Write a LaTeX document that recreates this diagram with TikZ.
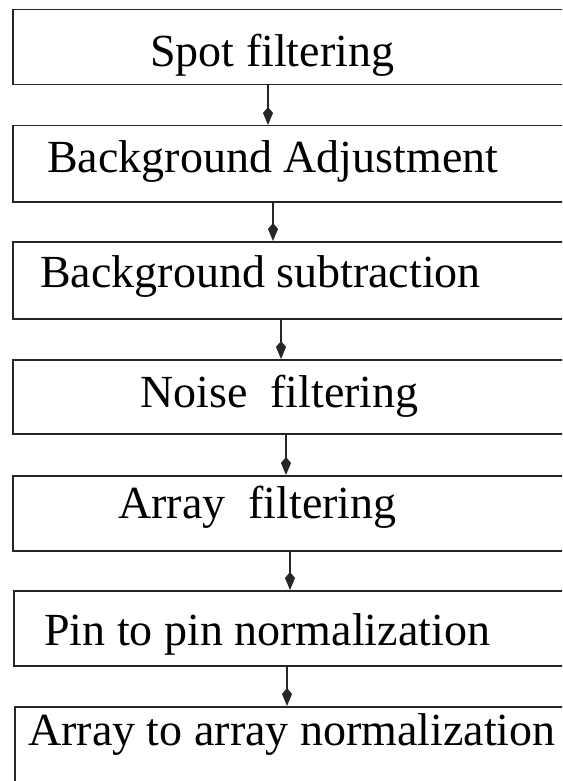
\documentclass[tikz,border=0pt]{standalone}
\usepackage{fontspec}
\setmainfont{Liberation Serif}
\usetikzlibrary{arrows.meta}
\begin{document}
\begin{tikzpicture}[x=1pt,y=-1pt,
  box/.style={draw=black!85,line width=1.5pt,rectangle,anchor=north west,inner sep=0pt,minimum width=570pt},
  lbl/.style={anchor=base west,inner sep=0pt,font=\fontsize{46}{50}\selectfont},
  arr/.style={draw=black!85,line width=1.3pt,-{Kite[length=18pt,width=10pt,inset=6pt]}}]
\useasboundingbox (0,0) rectangle (562,781);
\clip (0,0) rectangle (562,781);
\fill[white] (0,0) rectangle (562,781);
\node[box,minimum height=75pt] (b1) at (12,9) {};
\node[box,minimum height=76pt] (b2) at (12,125) {};
\node[box,minimum height=77pt] (b3) at (12,241) {};
\node[box,minimum height=74pt] (b4) at (12,359) {};
\node[box,minimum height=75pt] (b5) at (12,475) {};
\node[box,minimum height=75pt] (b6) at (13,590) {};
\node[box,minimum height=100pt] (b7) at (14,706) {};
\node[lbl] (t1) at (150,67) {Spot filtering};
\node[lbl] (t2) at (47,172) {Background Adjustment};
\node[lbl] (t3) at (40,287) {Background subtraction};
\node[lbl] (t4) at (140,407) {Noise\ \ filtering};
\node[lbl] (t5) at (118,518) {Array\ \ filtering};
\node[lbl] (t6) at (44,645) {Pin to pin normalization};
\node[lbl] (t7) at (28,745) {Array to array normalization};
\coordinate (a1) at (268,0);
\coordinate (a2) at (273,0);
\coordinate (a3) at (281,0);
\coordinate (a4) at (286,0);
\coordinate (a5) at (290,0);
\coordinate (a6) at (287,0);
\draw[arr] (b1.south -| a1) -- (b2.north -| a1);
\draw[arr] (b2.south -| a2) -- (b3.north -| a2);
\draw[arr] (b3.south -| a3) -- (b4.north -| a3);
\draw[arr] (b4.south -| a4) -- (b5.north -| a4);
\draw[arr] (b5.south -| a5) -- (b6.north -| a5);
\draw[arr] (b6.south -| a6) -- (b7.north -| a6);
\end{tikzpicture}
\end{document}
